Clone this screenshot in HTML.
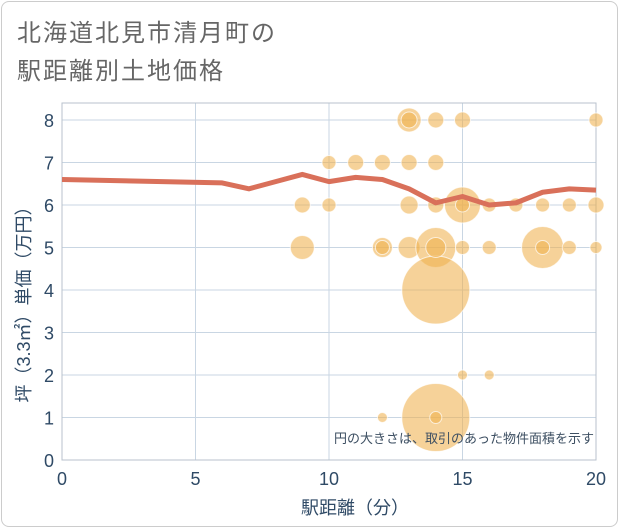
<!DOCTYPE html>
<html><head><meta charset="utf-8">
<style>
html,body{margin:0;padding:0;background:#fff;}
body{width:621px;height:530px;overflow:hidden;font-family:"Liberation Sans","Noto Sans CJK JP",sans-serif;}
#frame{position:absolute;left:1px;top:1px;width:617px;height:526px;border:1px solid #ccc;border-radius:8px;box-sizing:border-box;}
.title{position:absolute;left:17px;font-size:24px;color:#666;letter-spacing:2px;}
</style></head><body>
<div id="frame"></div>
<div class="title" style="top:13px">北海道北見市清月町の</div>
<div class="title" style="top:51px">駅距離別土地価格</div>
<svg id="chart" width="621" height="530" style="position:absolute;left:0;top:0"></svg>
<script>
const xTicks=[0,5,10,15,20];
const yTicks=[0,1,2,3,4,5,6,7,8];
const lineX=[0,6,7,8,9,10,11,12,13,14,15,16,17,18,19,20];
const lineY=[6.6,6.52,6.38,6.55,6.72,6.55,6.65,6.6,6.38,6.05,6.2,6.0,6.05,6.3,6.38,6.35];
const bubX=[9,9,10,10,11,12,12,13,13,13,13,14,14,14,14,14,14,15,15,15,15,16,16,16,17,18,18,19,19,20,20,20,12,12,13,14,14,15,18];
const bubY=[6,5,7,6,7,7,5,8,7,6,5,8,7,6,5,4,1,8,6,5,2,6,5,2,6,6,5,6,5,8,6,5,1,5,8,5,1,6,5];
const bubR=[8,12,7,7,8,8,10,12,8,9,11,8,8,8,20,34,34,8,18,7,5,7,7,5,7,7,21,7,7,7,8,6,5,7,8,10,6,7,7];
const NS='http://www.w3.org/2000/svg';
const svg=document.getElementById('chart');
const L=62,R=596,T=103,B=460;
const sx=v=>L+(v-0)/(20-0)*(R-L);
const sy=v=>B-(v/8.4)*(B-T);
function mk(tag,attrs,parent){const e=document.createElementNS(NS,tag);for(const k in attrs)e.setAttribute(k,attrs[k]);(parent||svg).appendChild(e);return e;}
yTicks.forEach(v=>{
 const g=mk('line',{x1:L,x2:R,y1:sy(v),y2:sy(v),stroke:'#c9d6e3','stroke-width':1});
 
 
 const t=mk('text',{x:L-8,y:sy(v)+7,'text-anchor':'end','font-size':18,fill:'#2f4a66'});
 t.textContent=v;
 
 
});
xTicks.forEach(v=>{
 const g=mk('line',{x1:sx(v),x2:sx(v),y1:T,y2:B,stroke:'#c9d6e3','stroke-width':1});
 
 
 const t=mk('text',{x:sx(v),y:B+25,'text-anchor':'middle','font-size':18,fill:'#2f4a66'});
 t.textContent=v;
 
 
});
const box=mk('rect',{x:L,y:T,width:R-L,height:B-T,fill:'none',stroke:'#b8c2cc','stroke-width':1});


bubX.forEach((x,i)=>{
 const c=mk('circle',{cx:sx(x),cy:sy(bubY[i]),r:bubR[i],fill:'rgba(240,176,76,0.57)',stroke:'rgba(255,255,255,0.7)','stroke-width':1});
 
 
});
const pts=lineX.map((x,i)=>sx(x)+','+sy(lineY[i])).join(' ');
const pl=mk('polyline',{points:pts,fill:'none',stroke:'#d9705a','stroke-width':5,'stroke-linejoin':'round'});


const xl=mk('text',{x:355,y:514,'text-anchor':'middle','font-size':18,fill:'#2f4a66'});
xl.textContent='駅距離（分）';


const yl=mk('text',{x:0,y:0,'text-anchor':'middle','font-size':18,fill:'#2f4a66',transform:'translate(30,300) rotate(-90)'});
yl.textContent='坪（3.3㎡）単価（万円）';


const note=mk('text',{x:594,y:443,'text-anchor':'end','font-size':13,fill:'#3d4f62'});
note.textContent='円の大きさは、取引のあった物件面積を示す';


</script>
</body></html>
